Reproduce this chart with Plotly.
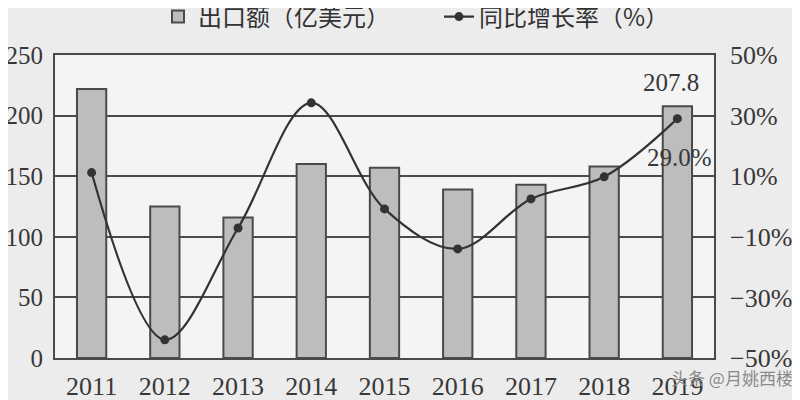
import plotly.graph_objects as go

years = ["2011", "2012", "2013", "2014", "2015", "2016", "2017", "2018", "2019"]
export_values = [222, 125, 116, 160, 157, 139, 143, 158, 207.8]
growth_rates = [11.2, -44.0, -7.1, 34.2, -0.8, -14.0, 2.5, 9.8, 29.0]
left_ticks = [0, 50, 100, 150, 200, 250]
right_ticks = [-50, -30, -10, 10, 30, 50]
right_tick_labels = ["−50%", "−30%", "−10%", "10%", "30%", "50%"]

serif = "Liberation Serif, Times New Roman, serif"
cjk = "Noto Sans CJK SC, sans-serif"
ink = "#383838"
last = len(years) - 1

fig = go.Figure()
fig.add_trace(go.Bar(
    x=years, y=export_values, name="出口额（亿美元）",
    marker=dict(color="#bdbdbd", line=dict(color="#4a4a4a", width=2)),
    width=0.4,
))
fig.add_trace(go.Scatter(
    x=years, y=growth_rates, name="同比增长率（%）", yaxis="y2",
    mode="lines+markers",
    line=dict(color="#333333", width=2.2, shape="spline", smoothing=1.0),
    marker=dict(color="#333333", size=9),
))

fig.add_annotation(x=last, y=export_values[-1], yref="y", text="207.8",
                   showarrow=False, yanchor="bottom", yshift=8, xshift=-6,
                   font=dict(family=serif, size=25, color=ink))
fig.add_annotation(x=last, y=growth_rates[-1], yref="y2", text="29.0%",
                   showarrow=False, yanchor="top", yshift=-23, xshift=2,
                   font=dict(family=serif, size=25, color=ink))
fig.add_annotation(xref="paper", yref="paper", x=1.123, y=-0.063,
                   text="头条 @月姚西楼", showarrow=False, xanchor="right",
                   yanchor="middle",
                   font=dict(family=cjk, size=17, color="#8a8a8a"))

fig.update_layout(
    width=800, height=400,
    margin=dict(l=47, r=94, t=47, b=50, autoexpand=False),
    paper_bgcolor="#ececec", plot_bgcolor="#f4f4f4",
    showlegend=True,
    legend=dict(orientation="h", xref="container", yref="container",
                x=0.1875, y=1 - 9 / 400, xanchor="left", yanchor="middle",
                entrywidth=236, bgcolor="rgba(0,0,0,0)",
                font=dict(family=cjk, size=24, color="#333333")),
    xaxis=dict(type="category", range=[-0.5, last + 0.5], showgrid=False,
               automargin=False,
               showline=True, linecolor="#4a4a4a", linewidth=2, mirror=True,
               ticks="", tickfont=dict(family=serif, size=26, color=ink),
               ticklabelstandoff=4),
    yaxis=dict(range=[0, 250], tickvals=left_ticks, automargin=False,
               showgrid=True, gridcolor="#4a4a4a", gridwidth=2,
               showline=True, linecolor="#4a4a4a", linewidth=2, mirror=True,
               zeroline=False, ticks="",
               tickfont=dict(family=serif, size=25, color=ink),
               ticklabelstandoff=5),
    yaxis2=dict(range=[-50, 50], tickvals=right_ticks, ticktext=right_tick_labels,
                overlaying="y", side="right", showgrid=False, zeroline=False,
                automargin=False,
                ticks="", tickfont=dict(family=serif, size=26, color=ink),
                ticklabelstandoff=15),
)

fig.write_html("out.html")
